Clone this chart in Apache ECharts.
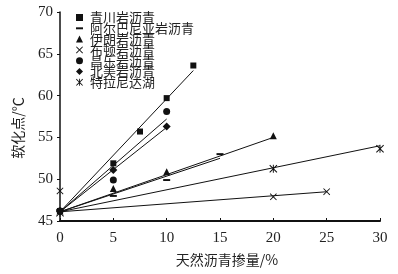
<!DOCTYPE html>
<html><head><meta charset="utf-8">
<script src="https://cdn.jsdelivr.net/npm/echarts@6/dist/echarts.min.js"></script>
<style>html,body{margin:0;padding:0;background:#fff}#c{width:398px;height:274px}</style>
</head><body><div id="c"></div>
<script>
// ---- data ----
const names = ['青川岩沥青','阿尔巴尼亚岩沥青','伊朗岩沥青','布顿岩沥青','昌乐岩沥青','北美岩沥青','特拉尼达湖'];
const xQingchuan = [0, 5, 7.5, 10, 12.5];
const yQingchuan = [46.2, 51.9, 55.7, 59.7, 63.6];
const xAlbania = [0, 5, 10, 15];
const yAlbania = [46.2, 48.0, 49.9, 53.0];
const xIran = [0, 5, 10, 20];
const yIran = [46.2, 48.9, 50.9, 55.2];
const xButon = [0, 20, 25];
const yButon = [48.6, 47.9, 48.5];
const xChangle = [0, 5, 10];
const yChangle = [46.2, 49.9, 58.1];
const xNorthAm = [0, 5, 10];
const yNorthAm = [46.2, 51.1, 56.3];
const xTrinidad = [0, 20, 30];
const yTrinidad = [46.0, 51.25, 53.65];
// fitted trend lines (start, end)
const fitX = [[0,12.5],[0,15],[0,20],[0,25],[0,10],[0,10],[0,30]];
const fitY = [[46.1,63.0],[46.1,52.5],[46.1,55.0],[46.1,48.5],[46.1,57.2],[46.1,56.2],[46.1,54.0]];
const xTicks = [0,5,10,15,20,25,30];
const yTicks = [45,50,55,60,65,70];

// ---- symbols ----
const SYM_X = 'path://M0,0.9L0.9,0L5,4.1L9.1,0L10,0.9L5.9,5L10,9.1L9.1,10L5,5.9L0.9,10L0,9.1L4.1,5Z';
const SYM_AST = 'path://M0,0.9L0.9,0L5,4.1L9.1,0L10,0.9L5.9,5L10,9.1L9.1,10L5,5.9L0.9,10L0,9.1L4.1,5ZM4.4,0H5.6V10H4.4Z';
const SYM_DASH = 'path://M0,0M0,3.6H10V6.4H0ZM10,10';
const symbols = ['rect', SYM_DASH, 'triangle', SYM_X, 'circle', 'diamond', SYM_AST];
const sizes = [6, 7, 7, 7, 7, 8, 8];
const xs = [xQingchuan, xAlbania, xIran, xButon, xChangle, xNorthAm, xTrinidad];
const ys = [yQingchuan, yAlbania, yIran, yButon, yChangle, yNorthAm, yTrinidad];

const series = [];
for (let i = 0; i < names.length; i++) {
  series.push({
    type: 'line', silent: true, symbol: 'none', z: 2,
    lineStyle: {color: '#111', width: 1},
    data: fitX[i].map((x, j) => [x, fitY[i][j]])
  });
}
for (let i = 0; i < names.length; i++) {
  series.push({
    name: names[i], type: 'scatter', z: 3,
    symbol: symbols[i], symbolSize: sizes[i],
    itemStyle: {color: '#111', opacity: 1},
    data: xs[i].map((x, j) => [x, ys[i][j]])
  });
}

const chart = echarts.init(document.getElementById('c'), null, {renderer: 'canvas'});
const serif = 'Liberation Serif';
const cjk = '"Noto Sans CJK SC", "Liberation Serif"';
chart.setOption({
  animation: false,
  backgroundColor: '#fff',
  grid: {left: 60, right: 18, top: 12, bottom: 53},
  legend: {
    orient: 'vertical', left: 71, top: 6,
    itemWidth: 7, itemHeight: 7, itemGap: -2.2,
    textStyle: {fontFamily: cjk, fontSize: 13, color: '#222', padding: [0,0,0,2]},
    data: names.map((n, i) => ({name: n, icon: symbols[i]})),
    selectedMode: false
  },
  xAxis: {
    type: 'value', min: 0, max: 30, interval: 5,
    name: '天然沥青掺量/%', nameLocation: 'middle', nameGap: 32,
    nameTextStyle: {fontFamily: cjk, fontSize: 14, color: '#222', padding: [0,0,0,14]},
    axisLine: {show: true, lineStyle: {color: '#111', width: 2}},
    axisTick: {show: true, inside: true, length: 3, lineStyle: {color: '#111', width: 1}},
    axisLabel: {fontFamily: serif, fontSize: 15, color: '#222', margin: 10,
      formatter: v => xTicks.includes(v) ? String(v) : ''},
    splitLine: {show: false}
  },
  yAxis: {
    type: 'value', min: 45, max: 70, interval: 5,
    axisLine: {show: true, lineStyle: {color: '#111', width: 1.5}},
    axisTick: {show: true, inside: false, length: 3, lineStyle: {color: '#111', width: 1}},
    axisLabel: {fontFamily: serif, fontSize: 15, color: '#222', margin: 7,
      formatter: v => yTicks.includes(v) ? String(v) : ''},
    splitLine: {show: false}
  },
  graphic: [{
    type: 'text', x: 18, y: 128, rotation: Math.PI / 2,
    style: {text: '软化点/℃', font: '14px "Noto Sans CJK SC"', fill: '#222',
      textAlign: 'center', textVerticalAlign: 'middle'}
  }],
  series: series
});
</script></body></html>
